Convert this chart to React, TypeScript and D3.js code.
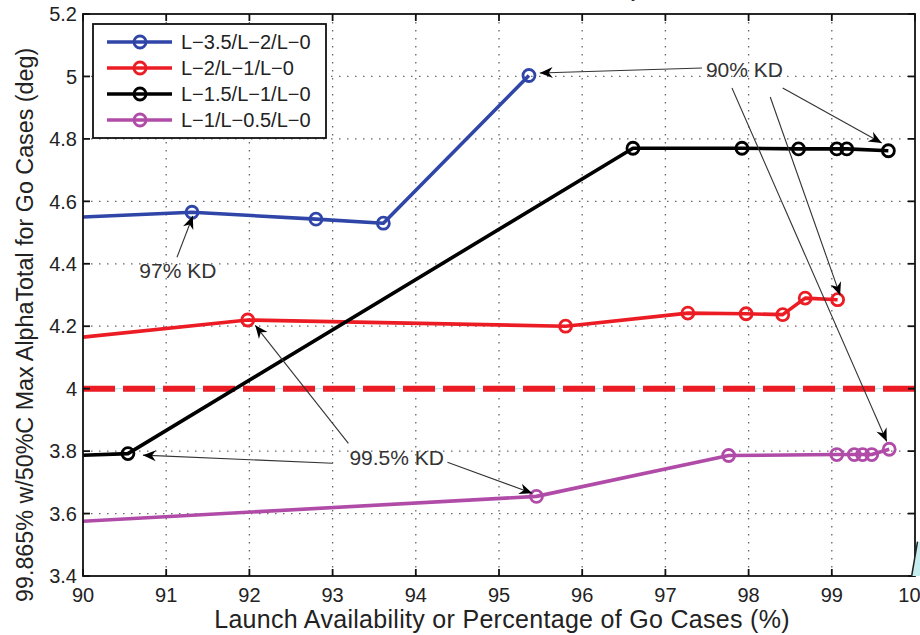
import React from "react";
import * as d3 from "d3";

const W = 920;
const H = 635;

const xTicks = [90, 91, 92, 93, 94, 95, 96, 97, 98, 99, 100];
const yTicks = [3.4, 3.6, 3.8, 4.0, 4.2, 4.4, 4.6, 4.8, 5.0, 5.2];

const seriesNames = ["L\u22123.5/L\u22122/L\u22120", "L\u22122/L\u22121/L\u22120", "L\u22121.5/L\u22121/L\u22120", "L\u22121/L\u22120.5/L\u22120"];
const seriesColors = ["#2f45a8", "#ec1c24", "#000000", "#b04ca8"];

const blueX = [89.5, 91.31, 92.8, 93.61, 95.36];
const blueY = [4.544, 4.565, 4.543, 4.53, 5.003];
const redX = [89.5, 91.98, 95.8, 97.27, 97.97, 98.41, 98.68, 99.07];
const redY = [4.151, 4.22, 4.2, 4.242, 4.24, 4.237, 4.29, 4.285];
const blackX = [89.5, 90.54, 96.61, 97.92, 98.6, 99.06, 99.18, 99.68];
const blackY = [3.782, 3.792, 4.77, 4.77, 4.768, 4.768, 4.768, 4.762];
const purpleX = [89.5, 95.45, 97.76, 99.06, 99.27, 99.37, 99.48, 99.69];
const purpleY = [3.568, 3.655, 3.786, 3.789, 3.789, 3.789, 3.789, 3.806];

const thresholdY = 4.0;

const annoLabels = ["90% KD", "97% KD", "99.5% KD"];
const annoLabelX = [97.95, 91.14, 93.77];
const annoLabelY = [5.024, 4.379, 3.78];

// arrows: tail (x,y) -> tip (x,y) in data units
const arrowTailX = [97.44, 98.41, 97.8, 98.26, 91.13, 93.0, 93.19, 94.38];
const arrowTailY = [5.027, 4.963, 4.963, 4.934, 4.421, 3.761, 3.825, 3.764];
const arrowTipX = [95.49, 99.6, 99.66, 99.1, 91.32, 90.72, 92.07, 95.4];
const arrowTipY = [5.011, 4.787, 3.831, 4.299, 4.553, 3.787, 4.203, 3.665];

const xLabel = "Launch Availability or Percentage of Go Cases (%)";
const yLabel = "99.865% w/50%C Max AlphaTotal for Go Cases (deg)";
const titleText = "Launch Availability";

const FONT = "'Liberation Sans', Arial, Helvetica, sans-serif";

export default function App() {
  const left = 83, right = 915, top = 14, bottom = 576;
  const x = d3.scaleLinear().domain([90, 100]).range([left, right]);
  const y = d3.scaleLinear().domain([3.4, 5.2]).range([bottom, top]);

  const series = [
    { xs: blueX, ys: blueY },
    { xs: redX, ys: redY },
    { xs: blackX, ys: blackY },
    { xs: purpleX, ys: purpleY },
  ];
  const line = d3
    .line<[number, number]>()
    .x((d) => x(d[0]))
    .y((d) => y(d[1]));

  const fmt = (v: number) => String(+v.toFixed(1));

  const arrows = arrowTailX.map((_, i) => {
    const x1 = x(arrowTailX[i]), y1 = y(arrowTailY[i]);
    const x2 = x(arrowTipX[i]), y2 = y(arrowTipY[i]);
    const ang = (Math.atan2(y2 - y1, x2 - x1) * 180) / Math.PI;
    return { x1, y1, x2, y2, ang };
  });

  const tickLen = 7;

  return (
    <svg
      width={W}
      height={H}
      style={{ position: "absolute", left: 0, top: 0, background: "#fff" }}
      fontFamily={FONT}
    >
      <defs>
        <clipPath id="plotclip">
          <rect x={left} y={top} width={right - left} height={bottom - top} />
        </clipPath>
      </defs>
      <rect x={0} y={0} width={W} height={H} fill="#fff" />

      {/* title (cut off) */}
      <text x={641} y={-3} textAnchor="end" fontSize={20} fill="#222">
        {titleText}
      </text>

      {/* grid */}
      <g stroke="#666" strokeWidth={1.3} strokeDasharray="1.5,6.5">
        {xTicks.slice(1, -1).map((t) => (
          <line key={"gx" + t} x1={x(t)} x2={x(t)} y1={top} y2={bottom} />
        ))}
        {yTicks.slice(1, -1).map((t) => (
          <line key={"gy" + t} x1={left} x2={right} y1={y(t)} y2={y(t)} />
        ))}
      </g>

      {/* threshold line */}
      <g clipPath="url(#plotclip)">
        <line x1={left} x2={right} y1={y(thresholdY)} y2={y(thresholdY)} stroke="#bfe9ef" strokeWidth={1.2} />
        <line
          x1={left}
          x2={right}
          y1={y(thresholdY)}
          y2={y(thresholdY)}
          stroke="#ec1c24"
          strokeWidth={6}
          strokeDasharray="32,8"
        />
      </g>

      {/* series */}
      <g clipPath="url(#plotclip)">
        {series.map((s, i) => {
          const pts = s.xs.map((v, j) => [v, s.ys[j]] as [number, number]);
          return (
            <g key={"s" + i}>
              <path d={line(pts) || ""} fill="none" stroke={seriesColors[i]} strokeWidth={3.6} strokeLinejoin="round" />
              {pts.map((p, j) => (
                <circle
                  key={j}
                  cx={x(p[0])}
                  cy={y(p[1])}
                  r={6}
                  fill="none"
                  stroke={seriesColors[i]}
                  strokeWidth={2.8}
                />
              ))}
            </g>
          );
        })}
      </g>

      {/* annotations */}
      <g>
        {arrows.map((a, i) => (
          <g key={"a" + i}>
            <line x1={a.x1} y1={a.y1} x2={a.x2} y2={a.y2} stroke="#333" strokeWidth={1.1} />
            <path
              d="M0,0 L-13,-5.5 L-9,0 L-13,5.5 Z"
              fill="#000"
              transform={`translate(${a.x2},${a.y2}) rotate(${a.ang})`}
            />
          </g>
        ))}
        {annoLabels.map((t, i) => (
          <text
            key={"al" + i}
            x={x(annoLabelX[i])}
            y={y(annoLabelY[i])}
            dy="0.36em"
            textAnchor="middle"
            fontSize={21}
            fill="#333"
          >
            {t}
          </text>
        ))}
      </g>

      {/* axes frame */}
      <rect x={left} y={top} width={right - left} height={bottom - top} fill="none" stroke="#111" strokeWidth={1.8} />
      <g stroke="#111" strokeWidth={1.8}>
        {xTicks.map((t) => (
          <g key={"tx" + t}>
            <line x1={x(t)} x2={x(t)} y1={bottom} y2={bottom - tickLen} />
            <line x1={x(t)} x2={x(t)} y1={top} y2={top + tickLen} />
          </g>
        ))}
        {yTicks.map((t) => (
          <g key={"ty" + t}>
            <line x1={left} x2={left + tickLen} y1={y(t)} y2={y(t)} />
            <line x1={right} x2={right - tickLen} y1={y(t)} y2={y(t)} />
          </g>
        ))}
      </g>

      {/* tick labels */}
      <g fontSize={20} fill="#222">
        {xTicks.map((t) => (
          <text key={"lx" + t} x={x(t)} y={602} textAnchor="middle">
            {fmt(t)}
          </text>
        ))}
        {yTicks.map((t) => (
          <text key={"ly" + t} x={left - 6} y={y(t)} dy="0.36em" textAnchor="end">
            {fmt(t)}
          </text>
        ))}
      </g>

      {/* axis labels */}
      <text x={502} y={628} textAnchor="middle" fontSize={25} letterSpacing={0.3} fill="#222">
        {xLabel}
      </text>
      <text transform="translate(33,602) rotate(-90)" textAnchor="start" fontSize={23.3} fill="#222">
        {yLabel}
      </text>

      {/* corner remnant */}
      <path
        d={`M${x(99.96)},${y(3.4)} L${x(100.03)},${y(3.51)} L${W},${y(3.51)} L${W},${y(3.4)} Z`}
        fill="#c6eef0"
        stroke="none"
      />
      <line x1={x(99.96)} y1={y(3.4)} x2={x(100.03)} y2={y(3.51)} stroke="#222" strokeWidth={1.5} />

      {/* legend */}
      <g>
        <rect x={93} y={24} width={233} height={114} fill="#fff" stroke="#111" strokeWidth={1.8} />
        {seriesNames.map((n, i) => {
          const ly = 42 + i * 26;
          return (
            <g key={"lg" + i}>
              <line x1={107} x2={172} y1={ly} y2={ly} stroke={seriesColors[i]} strokeWidth={3.6} />
              <circle cx={140} cy={ly} r={6} fill="none" stroke={seriesColors[i]} strokeWidth={2.8} />
              <text x={181} y={ly} dy="0.36em" fontSize={20} fill="#222">
                {n}
              </text>
            </g>
          );
        })}
      </g>
    </svg>
  );
}
